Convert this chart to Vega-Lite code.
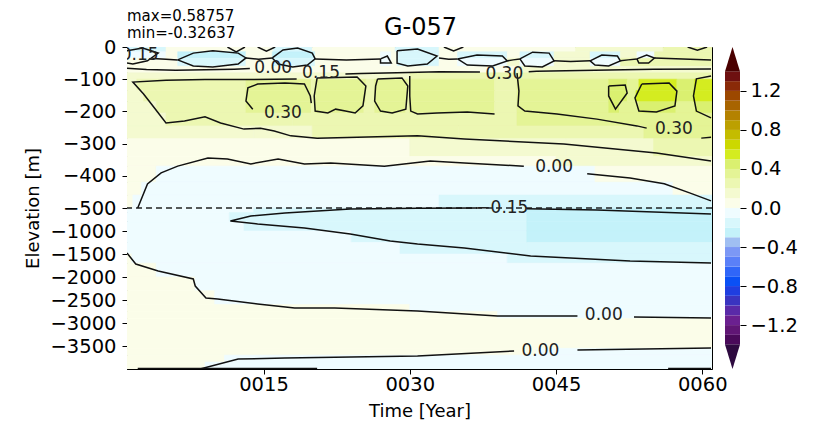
{
 "$schema": "https://vega.github.io/schema/vega-lite/v6.json",
 "padding": {"left": 23, "top": 8, "right": 5, "bottom": 2},
 "background": "white",
 "config": {
  "font": "DejaVu Sans",
  "view": {"stroke": "black", "strokeWidth": 1},
  "axis": {"labelColor": "#000", "titleColor": "#000", "tickColor": "#000", "domainColor": "#000", "grid": false, "labelFontSize": 19.5, "titleFontSize": 18, "titleFontWeight": "normal", "tickSize": 5, "labelPadding": 4, "labelOverlap": false},
  "title": {"color": "#000", "fontWeight": "normal"}
 },
 "title": {"text": "G-057", "fontSize": 24, "anchor": "middle", "offset": -31, "dx": 10},
 "spacing": 13,
 "bounds": "flush",
 "datasets": {
  "cells": [
   {"z0":0,"z1":-15,"t0":[1,5,16,20,28.5,33,47,56],"t1":[5,16,20,28.5,33,47,56,61],"v":[-0.12,0.03,-0.15,0.05,-0.12,0.05,0.12,0.22]},
   {"z0":-15,"z1":-35,"t0":[1,5,6.2,13.2,15.9,20.3,27,28.1,28.7,33,34.9,40,41.3,44.8,48.5,51.6,53.3,55.1],"t1":[5,6.2,13.2,15.9,20.3,27,28.1,28.7,33,34.9,40,41.3,44.8,48.5,51.6,53.3,55.1,61],"v":[-0.08,0.03,-0.22,0.03,-0.25,0.04,-0.1,0.04,-0.18,0.05,-0.15,0.06,-0.18,0.1,-0.14,0.1,-0.08,0.22]},
   {"z0":-35,"z1":-60,"t0":[1,6.2,13.2,15.9,20.3,27,28.1,28.7,33,34.9,40,41.3,44.8,48.5,51.6],"t1":[6.2,13.2,15.9,20.3,27,28.1,28.7,33,34.9,40,41.3,44.8,48.5,51.6,61],"v":[0.03,-0.2,0.04,-0.18,0.05,-0.05,0.05,-0.12,0.08,-0.1,0.1,-0.1,0.12,-0.06,0.2]},
   {"z0":-60,"z1":-80,"t0":[1,14,41],"t1":[14,41,61],"v":[0.06,0.09,0.18]},
   {"z0":-80,"z1":-100,"t0":[1,30],"t1":[30,61],"v":[0.12,0.22]},
   {"z0":-100,"z1":-135,"t0":[1,2,13.2,19.9,20.3,25.5,26.4,29.8,30,38.7,41,50.4,52.3,53.5,57.4,59.2],"t1":[2,13.2,19.9,20.3,25.5,26.4,29.8,30,38.7,41,50.4,52.3,53.5,57.4,59.2,61],"v":[0.12,0.24,0.34,0.27,0.35,0.27,0.35,0.27,0.34,0.27,0.37,0.47,0.38,0.52,0.4,0.56]},
   {"z0":-135,"z1":-170,"t0":[1,2.7,13.2,19.9,20.3,25.5,26.4,29.8,30,38.7,41,50.4,52.3,53.2,57.4,59.1],"t1":[2.7,13.2,19.9,20.3,25.5,26.4,29.8,30,38.7,41,50.4,52.3,53.2,57.4,59.1,61],"v":[0.1,0.24,0.34,0.27,0.36,0.27,0.35,0.27,0.33,0.27,0.38,0.46,0.38,0.5,0.4,0.52]},
   {"z0":-170,"z1":-205,"t0":[1,4,13.2,19.9,20.3,25.3,26.4,29.6,30,38.7,41,50.4,51.5,53.5,57.3,59.3],"t1":[4,13.2,19.9,20.3,25.3,26.4,29.6,30,38.7,41,50.4,51.5,53.5,57.3,59.3,61],"v":[0.1,0.23,0.32,0.27,0.33,0.27,0.33,0.27,0.32,0.27,0.36,0.43,0.37,0.46,0.38,0.48]},
   {"z0":-205,"z1":-245,"t0":[1,5,18,41],"t1":[5,18,41,61],"v":[0.1,0.2,0.23,0.34]},
   {"z0":-245,"z1":-285,"t0":[1,14,20,35,54],"t1":[14,20,35,54,61],"v":[0.1,0.14,0.2,0.26,0.33]},
   {"z0":-285,"z1":-340,"t0":[1,30,46,55],"t1":[30,46,55,61],"v":[0.08,0.12,0.18,0.24]},
   {"z0":-340,"z1":-370,"t0":[1,45],"t1":[45,61],"v":[0.04,0.1]},
   {"z0":-370,"z1":-420,"t0":[1,4,49],"t1":[4,49,61],"v":[0.04,-0.04,0.05]},
   {"z0":-420,"z1":-460,"t0":[1,2.5,57],"t1":[2.5,57,61],"v":[0.03,-0.05,0.04]},
   {"z0":-460,"z1":-500,"t0":[1,1.6,33],"t1":[1.6,33,61],"v":[0.02,-0.06,-0.12]},
   {"z0":-500,"z1":-600,"t0":[1,14,42],"t1":[14,42,61],"v":[-0.07,-0.12,-0.22]},
   {"z0":-600,"z1":-800,"t0":[1,11.5,42],"t1":[11.5,42,61],"v":[-0.07,-0.18,-0.23]},
   {"z0":-800,"z1":-1000,"t0":[1,13,42],"t1":[13,42,61],"v":[-0.07,-0.18,-0.23]},
   {"z0":-1000,"z1":-1250,"t0":[1,24,42],"t1":[24,42,61],"v":[-0.07,-0.17,-0.21]},
   {"z0":-1250,"z1":-1500,"t0":[1,29,42],"t1":[29,42,61],"v":[-0.06,-0.16,-0.19]},
   {"z0":-1500,"z1":-1700,"t0":[1,1.5,40],"t1":[1.5,40,61],"v":[0.03,-0.08,-0.15]},
   {"z0":-1700,"z1":-2000,"t0":[1,4],"t1":[4,61],"v":[0.03,-0.06]},
   {"z0":-2000,"z1":-2300,"t0":[1,8],"t1":[8,61],"v":[0.03,-0.06]},
   {"z0":-2300,"z1":-2600,"t0":[1,10],"t1":[10,61],"v":[0.03,-0.05]},
   {"z0":-2600,"z1":-2750,"t0":[1,30],"t1":[30,61],"v":[0.03,-0.04]},
   {"z0":-2750,"z1":-2900,"t0":[1,39],"t1":[39,61],"v":[0.03,-0.03]},
   {"z0":-2900,"z1":-3550,"t0":[1],"t1":[61],"v":[0.03]},
   {"z0":-3550,"z1":-3700,"t0":[1,43],"t1":[43,61],"v":[0.03,-0.04]},
   {"z0":-3700,"z1":-3850,"t0":[1,11],"t1":[11,61],"v":[0.02,-0.04]},
   {"z0":-3850,"z1":-4000,"t0":[1,9],"t1":[9,61],"v":[0.01,-0.05]}
  ],
  "lines": [
   {"id":"c1","t":[60.9,55,49,43,42.2],"z":[-68,-69,-72,-75,-77]},
   {"id":"c2","t":[37.2,33,28.7,25,23.4],"z":[-78,-77,-80,-82,-84]},
   {"id":"c3","t":[18.4,14,9,5,1.6,2.7,3.5,5.0,6.9,9.0,10.6,13.0,14.7,16.1,17.8,20.5,30.8,35.6,45.8,55.3,60.9],"z":[-99,-101,-101,-103,-109,-146,-177,-236,-230,-217,-236,-255,-252,-261,-276,-283,-276,-286,-301,-329,-354]},
   {"id":"c4","t":[13.9,13.2,13.4,14.4,17.2,19.2,19.8,19.9],"z":[-193,-168,-127,-115,-112,-115,-152,-174]},
   {"id":"c5","t":[20.5,24.6,25.5,25.2,24.4,23.4,22.4,21.6,20.3,20.2,20.5],"z":[-96,-93,-121,-183,-205,-199,-193,-205,-199,-152,-96]},
   {"id":"c6","t":[26.7,29.2,29.8,29.6,28.2,27.0,26.4,26.5,26.7],"z":[-99,-96,-121,-193,-205,-199,-168,-121,-99]},
   {"id":"c7","t":[30.0,30.0,30.0,30.1,30.8,32.8,35.9,38.7],"z":[-90,-115,-152,-199,-208,-205,-202,-208]},
   {"id":"c8","t":[41.0,41.2,41.1,41.8,45.1,49.2,53.3,54.3],"z":[-81,-137,-183,-199,-208,-224,-245,-252]},
   {"id":"c8b","t":[59.9,60.9],"z":[-283,-280]},
   {"id":"c9","t":[50.4,52.1,52.3,51.1,50.4,50.4],"z":[-121,-118,-143,-193,-152,-121]},
   {"id":"c10","t":[53.8,56.6,57.4,57.2,55.3,53.5,53.1,53.8],"z":[-115,-112,-137,-183,-202,-199,-158,-115]},
   {"id":"c11","t":[60.9,59.4,59.1,59.4,60.9],"z":[-90,-99,-152,-199,-220]},
   {"id":"c12","t":[6.2,7.8,9.8,12.4,13.2,12.4,9.8,7.8,6.2],"z":[-40,-19,-12,-19,-34,-53,-62,-59,-40]},
   {"id":"c13","t":[15.9,17.0,18.5,20.0,20.3,19.5,18.0,16.5,15.9],"z":[-34,-9,-3,-19,-37,-56,-62,-53,-34]},
   {"id":"c14","t":[27.0,27.7,28.1,27.0,27.0],"z":[-37,-28,-50,-50,-37]},
   {"id":"c15","t":[28.7,30.8,32.8,31.8,29.8,28.7,28.7],"z":[-12,-6,-28,-53,-59,-50,-12]},
   {"id":"c16","t":[34.9,36.9,39.5,40.0,38.5,35.9,34.9],"z":[-37,-25,-28,-43,-59,-56,-37]},
   {"id":"c17","t":[41.3,42.6,44.3,44.8,43.6,41.8,41.3],"z":[-37,-16,-19,-43,-62,-59,-37]},
   {"id":"c18","t":[48.5,49.7,51.3,51.6,50.4,49.0,48.5],"z":[-43,-25,-28,-43,-59,-56,-43]},
   {"id":"c19","t":[53.3,54.3,55.1,54.5,53.5,53.3],"z":[-37,-25,-34,-50,-50,-37]},
   {"id":"c20","t":[1,2.6,4.2,3.1,1.6,1],"z":[-12,-3,-19,-43,-53,-50]},
   {"id":"c21","t":[1,3,6,9,12,13.6],"z":[-66,-70,-72,-71,-69,-67]},
   {"id":"k1","t":[3.6,5,6.2],"z":[-36,-38,-40]},
   {"id":"k2","t":[13.2,14.5,15.9],"z":[-34,-38,-34]},
   {"id":"k3","t":[20.3,23.5,27.0],"z":[-37,-40,-37]},
   {"id":"k4","t":[33.0,34.0,34.9],"z":[-34,-38,-37]},
   {"id":"k5","t":[40.0,40.6,41.3],"z":[-43,-40,-37]},
   {"id":"k6","t":[44.8,46.5,48.5],"z":[-43,-45,-43]},
   {"id":"k7","t":[51.6,52.4,53.3],"z":[-43,-40,-37]},
   {"id":"k8","t":[55.1,58,60.9],"z":[-34,-37,-40]},
   {"id":"a1","t":[11.3,12.2,13.1],"z":[0,-15,0]},
   {"id":"a2","t":[14.4,15.3,16.2],"z":[0,-13,0]},
   {"id":"a3","t":[33.5,34.5,35.5],"z":[0,-12,0]},
   {"id":"a4","t":[58.5,59.5,60.5],"z":[0,-10,0]},
   {"id":"c22","t":[2.1,3.1,4.5,6.2,9.3,11.3,13.7,16.5,19.2,21.9,27.4,32.1,35.6,41.7],"z":[-500,-425,-391,-370,-345,-348,-363,-348,-363,-360,-370,-354,-360,-370]},
   {"id":"c22b","t":[48.2,52.6,56.1,58.7,60.9],"z":[-394,-407,-425,-453,-478]},
   {"id":"c23","t":[1.0,1.9,4.2,7.8,8.0,9.1,10.3,14.4,18.2,22.3,30.8,39.0,47.2],"z":[-1480,-1717,-1870,-2043,-2196,-2457,-2478,-2587,-2674,-2674,-2739,-2848,-2848]},
   {"id":"c23b","t":[53.0,60.9],"z":[-2870,-2891]},
   {"id":"c24","t":[8.5,12.4,17.2,30.8,40.7],"z":[-4000,-3783,-3761,-3717,-3609]},
   {"id":"c24b","t":[47.2,60.9],"z":[-3587,-3544]},
   {"id":"c25","t":[2.1,20.5],"z":[-3990,-3990]},
   {"id":"c25b","t":[56.5,60.9],"z":[-3990,-3990]},
   {"id":"c26","t":[36.9,30.8,23.9,17.2,13.7,11.6,14.4,19.2,23.9,28.0,30.8,35.6,42.4,52.6,60.9],"z":[-502,-503,-522,-609,-674,-783,-848,-935,-1065,-1217,-1283,-1370,-1543,-1652,-1696]},
   {"id":"c26b","t":[42.0,49.2,60.9],"z":[-515,-543,-630]}
  ],
  "labels": [
   {"t":16.0,"z":-65,"s":"0.00"},
   {"t":20.9,"z":-82,"s":"0.15"},
   {"t":39.7,"z":-84,"s":"0.30"},
   {"t":17.0,"z":-205,"s":"0.30"},
   {"t":57.1,"z":-255,"s":"0.30"},
   {"t":44.8,"z":-373,"s":"0.00"},
   {"t":39.5,"z":-500,"s":"−0.15"},
   {"t":49.9,"z":-2826,"s":"0.00"},
   {"t":43.4,"z":-3609,"s":"0.00"},
   {"t":2.3,"z":-25,"s":"0.15"}
  ],
  "bar": [
   {"lo":-1.4,"hi":-1.3,"v":-1.35},{"lo":-1.3,"hi":-1.2,"v":-1.25},{"lo":-1.2,"hi":-1.1,"v":-1.15},{"lo":-1.1,"hi":-1.0,"v":-1.05},
   {"lo":-1.0,"hi":-0.9,"v":-0.95},{"lo":-0.9,"hi":-0.8,"v":-0.85},{"lo":-0.8,"hi":-0.7,"v":-0.75},{"lo":-0.7,"hi":-0.6,"v":-0.65},
   {"lo":-0.6,"hi":-0.5,"v":-0.55},{"lo":-0.5,"hi":-0.4,"v":-0.45},{"lo":-0.4,"hi":-0.3,"v":-0.35},{"lo":-0.3,"hi":-0.2,"v":-0.25},
   {"lo":-0.2,"hi":-0.1,"v":-0.15},{"lo":-0.1,"hi":0.0,"v":-0.05},{"lo":0.0,"hi":0.1,"v":0.05},{"lo":0.1,"hi":0.2,"v":0.15},
   {"lo":0.2,"hi":0.3,"v":0.25},{"lo":0.3,"hi":0.4,"v":0.35},{"lo":0.4,"hi":0.5,"v":0.45},{"lo":0.5,"hi":0.6,"v":0.55},
   {"lo":0.6,"hi":0.7,"v":0.65},{"lo":0.7,"hi":0.8,"v":0.75},{"lo":0.8,"hi":0.9,"v":0.85},{"lo":0.9,"hi":1.0,"v":0.95},
   {"lo":1.0,"hi":1.1,"v":1.05},{"lo":1.1,"hi":1.2,"v":1.15},{"lo":1.2,"hi":1.3,"v":1.25},{"lo":1.3,"hi":1.4,"v":1.35}
  ],
  "tri": [
   {"side":"top","x":0,"y":1.4,"y2":1.4},{"side":"top","x":0.5,"y":1.65,"y2":1.4},{"side":"top","x":1,"y":1.4,"y2":1.4},
   {"side":"bottom","x":0,"y":-1.4,"y2":-1.4},{"side":"bottom","x":0.5,"y":-1.65,"y2":-1.4},{"side":"bottom","x":1,"y":-1.4,"y2":-1.4}
  ]
 },
 "hconcat": [
  {
   "width": 585,
   "height": 322,
   "title": {"text": ["max=0.58757", "min=-0.32637"], "anchor": "start", "frame": "group", "fontSize": 15, "lineHeight": 17, "offset": -4},
   "layer": [
    {
     "data": {"name": "cells"},
     "transform": [{"flatten": ["t0", "t1", "v"]}],
     "mark": {"type": "rect", "strokeWidth": 0.6, "clip": true},
     "encoding": {
      "x": {"field": "t0", "type": "quantitative", "scale": {"domain": [1, 61], "nice": false, "zero": false},
            "axis": {"values": [15, 30, 45, 60], "tickCount": 10, "labelExpr": "'00' + datum.label", "title": "Time [Year]", "titlePadding": 9, "labelPadding": 1}},
      "x2": {"field": "t1"},
      "y": {"field": "z0", "type": "quantitative", "scale": {"domain": [0, -500, -4000], "range": [0, 161, 322], "nice": false, "zero": false},
            "axis": {"values": [0, -100, -200, -300, -400, -500, -1000, -1500, -2000, -2500, -3000, -3500], "tickCount": 30, "format": "d", "labelExpr": "replace(datum.label, '-', '−')", "labelOverlap": false, "labelBound": false, "title": "Elevation [m]", "titlePadding": 8, "labelPadding": 6}},
      "y2": {"field": "z1"},
      "color": {"field": "v", "type": "quantitative", "legend": null,
                "scale": {"type": "threshold", "domain": [-1.3,-1.2,-1.1,-1.0,-0.9,-0.8,-0.7,-0.6,-0.5,-0.4,-0.3,-0.2,-0.1,0,0.1,0.2,0.3,0.4,0.5,0.6,0.7,0.8,0.9,1.0,1.1,1.2,1.3],
                          "range": ["#4a0a5a","#601675","#6b2090","#5a2aa8","#3a34c0","#1f3ee0","#0a50f5","#3066f8","#5a80f8","#7c98f5","#a0bff2","#c4f2fa","#d8f7fc","#effcff","#fbfde9","#f4fad0","#ecf7b2","#e4f496","#daf070","#d4ec20","#ccd800","#c4bc00","#bca000","#b48200","#a86400","#9c4800","#8a2a08","#6e1010"]}},
      "stroke": {"field": "v", "type": "quantitative", "legend": null,
                "scale": {"type": "threshold", "domain": [-1.3,-1.2,-1.1,-1.0,-0.9,-0.8,-0.7,-0.6,-0.5,-0.4,-0.3,-0.2,-0.1,0,0.1,0.2,0.3,0.4,0.5,0.6,0.7,0.8,0.9,1.0,1.1,1.2,1.3],
                          "range": ["#4a0a5a","#601675","#6b2090","#5a2aa8","#3a34c0","#1f3ee0","#0a50f5","#3066f8","#5a80f8","#7c98f5","#a0bff2","#c4f2fa","#d8f7fc","#effcff","#fbfde9","#f4fad0","#ecf7b2","#e4f496","#daf070","#d4ec20","#ccd800","#c4bc00","#bca000","#b48200","#a86400","#9c4800","#8a2a08","#6e1010"]}}
     }
    },
    {
     "data": {"values": [{"z": -500}]},
     "mark": {"type": "rule", "strokeDash": [6, 4], "strokeWidth": 1.5, "color": "#222"},
     "encoding": {"y": {"field": "z", "type": "quantitative"}}
    },
    {
     "data": {"name": "lines"},
     "transform": [{"flatten": ["t", "z"]}],
     "mark": {"type": "line", "color": "#111", "strokeWidth": 1.5, "clip": true},
     "encoding": {
      "x": {"field": "t", "type": "quantitative"},
      "y": {"field": "z", "type": "quantitative"},
      "detail": {"field": "id"},
      "order": {"value": null}
     }
    },
    {
     "data": {"name": "labels"},
     "mark": {"type": "text", "fontSize": 17, "color": "#222", "clip": true},
     "encoding": {
      "x": {"field": "t", "type": "quantitative"},
      "y": {"field": "z", "type": "quantitative"},
      "text": {"field": "s"}
     }
    }
   ]
  },
  {
   "width": 15,
   "height": 322,
   "view": {"stroke": null},
   "layer": [
    {
     "data": {"name": "bar"},
     "mark": {"type": "rect", "strokeWidth": 0.5},
     "encoding": {
      "x": {"datum": 0, "type": "quantitative", "scale": {"domain": [0, 1], "nice": false, "zero": false}, "axis": null},
      "x2": {"datum": 1},
      "y": {"field": "lo", "type": "quantitative", "scale": {"domain": [-1.65, 1.65], "nice": false, "zero": false},
            "axis": {"orient": "right", "values": [-1.2, -0.8, -0.4, 0, 0.4, 0.8, 1.2], "tickCount": 20, "format": ".1f", "labelExpr": "replace(datum.label, '-', '−')", "labelOverlap": false, "title": null, "domain": false, "tickSize": 6, "labelPadding": 4}},
      "y2": {"field": "hi"},
      "color": {"field": "v", "type": "quantitative", "legend": null,
                "scale": {"type": "threshold", "domain": [-1.3,-1.2,-1.1,-1.0,-0.9,-0.8,-0.7,-0.6,-0.5,-0.4,-0.3,-0.2,-0.1,0,0.1,0.2,0.3,0.4,0.5,0.6,0.7,0.8,0.9,1.0,1.1,1.2,1.3],
                          "range": ["#4a0a5a","#601675","#6b2090","#5a2aa8","#3a34c0","#1f3ee0","#0a50f5","#3066f8","#5a80f8","#7c98f5","#a0bff2","#c4f2fa","#d8f7fc","#effcff","#fbfde9","#f4fad0","#ecf7b2","#e4f496","#daf070","#d4ec20","#ccd800","#c4bc00","#bca000","#b48200","#a86400","#9c4800","#8a2a08","#6e1010"]}}
     }
    },
    {
     "data": {"name": "tri"},
     "transform": [{"filter": "datum.side == 'top'"}],
     "mark": {"type": "area", "color": "#4a0000"},
     "encoding": {"x": {"field": "x", "type": "quantitative"}, "y": {"field": "y", "type": "quantitative"}, "y2": {"field": "y2"}}
    },
    {
     "data": {"name": "tri"},
     "transform": [{"filter": "datum.side == 'bottom'"}],
     "mark": {"type": "area", "color": "#2e0a40"},
     "encoding": {"x": {"field": "x", "type": "quantitative"}, "y": {"field": "y", "type": "quantitative"}, "y2": {"field": "y2"}}
    }
   ]
  }
 ]
}
